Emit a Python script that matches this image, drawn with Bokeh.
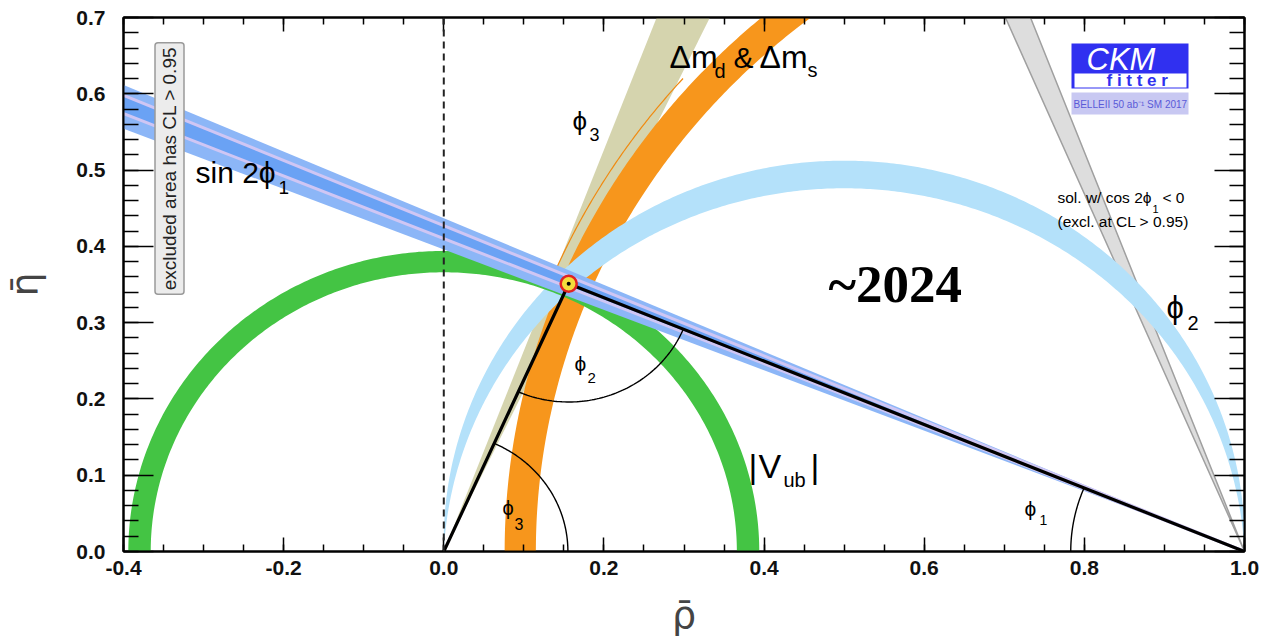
import numpy as np
from bokeh.plotting import figure
from bokeh.models import (Label, Span, BoxAnnotation, LinearAxis, Range1d,
                          FixedTicker, PrintfTickFormatter)
from bokeh.embed import file_html
from bokeh.resources import INLINE

# ---- unitarity triangle -------------------------------------------------
apex = [0.156, 0.351]            # (rho-bar, eta-bar) of the apex
corners_rho = [0.0, 1.0]
corners_eta = [0.0, 0.0]

# ---- constraint bands ---------------------------------------------------
vub_radii = [0.366, 0.394]          # |Vub| ring around (0,0)
dm_radii = [0.885, 0.924]           # dm_d & dm_s ring around (1,0)
dm_contour_radius = [0.936]         # thin outer contour of the dm ring
dm_contour_eta = [0.33, 0.62]
phi3_deg = [64.6, 69.2]             # phi3 wedge from (0,0)
phi2_deg = [88.6, 92.8]             # phi2 band (angle at apex)
sin2phi1_outer_deg = [21.6, 23.6]   # sin 2phi1 wedge from (1,0)
sin2phi1_core_deg = [22.3, 23.13]
phi1_alt_deg = [66.9, 69.1]         # solution with cos 2phi1 < 0

# ---- angle markers ------------------------------------------------------
arc_phi3_r = [0.155]
arc_phi2_r = [0.155]
arc_phi1_r = [0.217]

# ---- axes ---------------------------------------------------------------
x_range = [-0.4, 1.0]
y_range = [0.0, 0.7]
x_ticks = [-0.4, -0.2, 0.0, 0.2, 0.4, 0.6, 0.8, 1.0]
y_ticks = [0.0, 0.1, 0.2, 0.3, 0.4, 0.5, 0.6, 0.7]
x_minor_step = 0.05
y_minor_step = 0.02

SANS = "Liberation Sans"

W, H = 1261, 644
FL, FR, FT, FB = 123, 1244, 17, 551


def px(xp):
    return x_range[0] + (xp - FL) / (FR - FL) * (x_range[1] - x_range[0])


def py(yp):
    return y_range[0] + (FB - yp) / (FB - FT) * (y_range[1] - y_range[0])


def wedge(x0, y0, a1, a2, length=2.0):
    a1, a2 = np.radians(a1), np.radians(a2)
    return ([x0, x0 + length * np.cos(a1), x0 + length * np.cos(a2)],
            [y0, y0 + length * np.sin(a1), y0 + length * np.sin(a2)])


def ring(x0, y0, r1, r2, t1, t2, n=300):
    t = np.radians(np.linspace(t1, t2, n))
    xs = np.concatenate([x0 + r2 * np.cos(t), x0 + r1 * np.cos(t[::-1])])
    ys = np.concatenate([y0 + r2 * np.sin(t), y0 + r1 * np.sin(t[::-1])])
    return xs, ys


def apex_arc(alpha_deg, n=400):
    # circle through (0,0) and (1,0) on which the apex angle is alpha
    a = np.radians(alpha_deg)
    c = 0.5 / np.tan(a)
    r = 0.5 / np.sin(a)
    d = np.arctan2(c, 0.5)
    t = np.linspace(np.pi + d, -d, n)
    return 0.5 + r * np.cos(t), c + r * np.sin(t)


p = figure(width=W, height=H, output_backend="svg", toolbar_location=None,
           x_range=Range1d(*x_range), y_range=Range1d(*y_range),
           min_border_left=FL, min_border_right=W - FR,
           min_border_top=FT, min_border_bottom=H - FB,
           background_fill_color="white", border_fill_color="white")
p.grid.visible = False
p.outline_line_color = "black"
p.outline_line_width = 2

# second solution for phi1 (grey wedge)
gx, gy = wedge(1.0, 0.0, 180 - phi1_alt_deg[0], 180 - phi1_alt_deg[1])
p.patch(gx, gy, fill_color="#dddddd", line_color="#a0a0a0", line_width=1.5)

# phi3 wedge
kx, ky = wedge(0.0, 0.0, phi3_deg[0], phi3_deg[1])
p.patch(kx, ky, fill_color="#d5d4ae", line_color=None)

# dm_d & dm_s ring
ox, oy = ring(1.0, 0.0, dm_radii[0], dm_radii[1], 90, 180)
p.patch(ox, oy, fill_color="#f7961c", line_color=None)
t = np.arcsin(np.array(dm_contour_eta) / dm_contour_radius[0])
tt = np.linspace(np.pi - t[0], np.pi - t[1], 100)
p.line(1.0 + dm_contour_radius[0] * np.cos(tt), dm_contour_radius[0] * np.sin(tt),
       line_color="#f08a10", line_width=1.2)

# phi2 band
ax1, ay1 = apex_arc(phi2_deg[0])
ax2, ay2 = apex_arc(phi2_deg[1])
p.patch(np.concatenate([ax1, ax2[::-1]]), np.concatenate([ay1, ay2[::-1]]),
        fill_color="#b4e1fa", line_color=None)

# |Vub| ring
vx, vy = ring(0.0, 0.0, vub_radii[0], vub_radii[1], 0, 180)
p.patch(vx, vy, fill_color="#44c444", line_color=None)

# sin 2phi1 band
bx, by = wedge(1.0, 0.0, 180 - sin2phi1_outer_deg[0], 180 - sin2phi1_outer_deg[1])
p.patch(bx, by, fill_color="#8cb6f7", line_color=None)
cx, cy = wedge(1.0, 0.0, 180 - sin2phi1_core_deg[0], 180 - sin2phi1_core_deg[1])
p.patch(cx, cy, fill_color="#6aa2f4", line_color=None)
for a in sin2phi1_core_deg:
    lx, ly = wedge(1.0, 0.0, 180 - a, 180 - a)
    p.line(lx[:2], ly[:2], line_color="#cfc6f4", line_width=3)

# rho = 0 reference
p.add_layout(Span(location=0.0, dimension="height", line_color="#222222",
                  line_width=2, line_dash="7 5"))

# triangle
p.line([corners_rho[0], apex[0], corners_rho[1]],
       [corners_eta[0], apex[1], corners_eta[1]],
       line_color="black", line_width=3.2)

# angle markers
a3 = np.arctan2(apex[1], apex[0])
tt = np.linspace(0, a3, 80)
p.line(arc_phi3_r[0] * np.cos(tt), arc_phi3_r[0] * np.sin(tt), line_color="black", line_width=1.4)
d_or = np.arctan2(-apex[1], -apex[0])
d_one = np.arctan2(-apex[1], 1.0 - apex[0])
tt = np.linspace(d_or, d_one, 80)
p.line(apex[0] + arc_phi2_r[0] * np.cos(tt), apex[1] + arc_phi2_r[0] * np.sin(tt),
       line_color="black", line_width=1.4)
a1 = np.arctan2(apex[1], apex[0] - 1.0)
tt = np.linspace(np.pi, a1, 80)
p.line(1.0 + arc_phi1_r[0] * np.cos(tt), arc_phi1_r[0] * np.sin(tt), line_color="black", line_width=1.4)

# best-fit point
p.scatter([apex[0]], [apex[1]], size=16, fill_color="#f4dc3c", line_color="#e02222", line_width=2.5)
p.scatter([apex[0]], [apex[1]], size=4, fill_color="black", line_color=None)

# ---- axes styling -------------------------------------------------------
x_minor = [round(v, 3) for v in np.arange(x_range[0], x_range[1] + 1e-9, x_minor_step)]
y_minor = [round(v, 3) for v in np.arange(y_range[0], y_range[1] + 1e-9, y_minor_step)]
xt = FixedTicker(ticks=x_ticks, minor_ticks=x_minor)
yt = FixedTicker(ticks=y_ticks, minor_ticks=y_minor)
p.xaxis.ticker = xt
p.yaxis.ticker = yt
p.xaxis.formatter = PrintfTickFormatter(format="%.1f")
p.yaxis.formatter = PrintfTickFormatter(format="%.1f")

for ax in (p.xaxis[0], p.yaxis[0]):
    ax.axis_line_width = 2
    ax.major_label_text_font = SANS
    ax.major_label_text_font_style = "bold"
    ax.major_label_text_font_size = "21px"
    ax.major_label_text_color = "#111111"
    ax.major_tick_out = 0
    ax.minor_tick_out = 0
    ax.major_tick_line_width = 1.5
    ax.minor_tick_line_width = 1.5
    ax.axis_label_text_font = "DejaVu Sans"
    ax.axis_label_text_font_style = "normal"
    ax.axis_label_text_font_size = "38px"

p.xaxis.major_tick_in = 14
p.xaxis.minor_tick_in = 7
p.xaxis.major_label_standoff = 9
p.xaxis.axis_label = "ρ̄"
p.xaxis.axis_label_standoff = 15
p.yaxis.major_tick_in = 30
p.yaxis.minor_tick_in = 15
p.yaxis.major_label_standoff = 18
p.yaxis.axis_label = "η̄"
p.yaxis.axis_label_standoff = 26

top = LinearAxis(ticker=xt, major_label_text_font_size="0px", major_tick_in=14,
                 minor_tick_in=7, major_tick_out=0, minor_tick_out=0,
                 major_label_standoff=0, axis_line_width=2,
                 major_tick_line_width=1.5, minor_tick_line_width=1.5)
right = LinearAxis(ticker=yt, major_label_text_font_size="0px", major_tick_in=30,
                   minor_tick_in=15, major_tick_out=0, minor_tick_out=0,
                   major_label_standoff=0, axis_line_width=2,
                   major_tick_line_width=1.5, minor_tick_line_width=1.5)
p.add_layout(top, "above")
p.add_layout(right, "right")


# ---- texts --------------------------------------------------------------
def lab(text, xp, base, size, color="black", font=SANS, style="normal"):
    # base: pixel row of the text baseline
    p.add_layout(Label(x=px(xp), y=py(base - 0.36 * size), text=text, text_font=font,
                       text_font_size=f"{size}px", text_font_style=style,
                       text_color=color, text_baseline="alphabetic"))


lab("sin 2ϕ", 195, 183, 30)
lab("1", 278, 194, 19)
lab("ϕ", 572, 130, 26)
lab("3", 589, 140, 18)
lab("Δm", 669, 68, 32)
lab("d", 714, 78, 20)
lab("&", 733, 68, 30)
lab("Δm", 759, 68, 32)
lab("s", 807, 77, 20)
lab("sol. w/ cos 2ϕ", 1057, 203, 15.5)
lab("1", 1152, 212, 11)
lab("< 0", 1162, 203, 15.5)
lab("(excl. at CL > 0.95)", 1057, 227, 15.5)
lab("ϕ", 1166, 318, 31)
lab("2", 1187, 330, 20)
lab("~2024", 828, 303, 53, font="Liberation Serif", style="bold")
lab("|", 748, 478, 34)
lab("V", 758, 478, 34)
lab("ub", 783, 487, 20)
lab("|", 810, 478, 34)
lab("ϕ", 574, 371, 21)
lab("2", 587, 383, 15)
lab("ϕ", 502, 515, 20)
lab("3", 514, 529, 16)
lab("ϕ", 1024, 516, 21)
lab("1", 1039, 525, 14)

p.add_layout(Label(x=px(169), y=py(168), text="excluded area has CL > 0.95",
                   angle=np.pi / 2, text_align="center", text_baseline="middle",
                   text_font=SANS, text_font_size="19px", text_color="#222222",
                   background_fill_color="#ececec", border_line_color="#9a9a9a",
                   border_line_width=1.5, padding=4, border_radius=3))

# CKMfitter logo
p.add_layout(BoxAnnotation(left=px(1071), right=px(1188), top=py(43), bottom=py(88),
                           fill_color="#3030f0", fill_alpha=1, line_color=None))
p.add_layout(BoxAnnotation(left=px(1074), right=px(1186), top=py(73), bottom=py(87),
                           fill_color="white", fill_alpha=1, line_color=None))
p.add_layout(BoxAnnotation(left=px(1071), right=px(1188), top=py(92), bottom=py(114),
                           fill_color="#c8c8f2", fill_alpha=1, line_color=None))
lab("CKM", 1086, 70, 31, color="white", style="italic")
lab("f i t t e r", 1106, 86, 17, color="#3030f0", style="bold")
lab("BELLEII 50 ab⁻¹ SM 2017", 1073, 108, 10, color="#5a5ad8")

open("out.html", "w").write(file_html(p, INLINE))
